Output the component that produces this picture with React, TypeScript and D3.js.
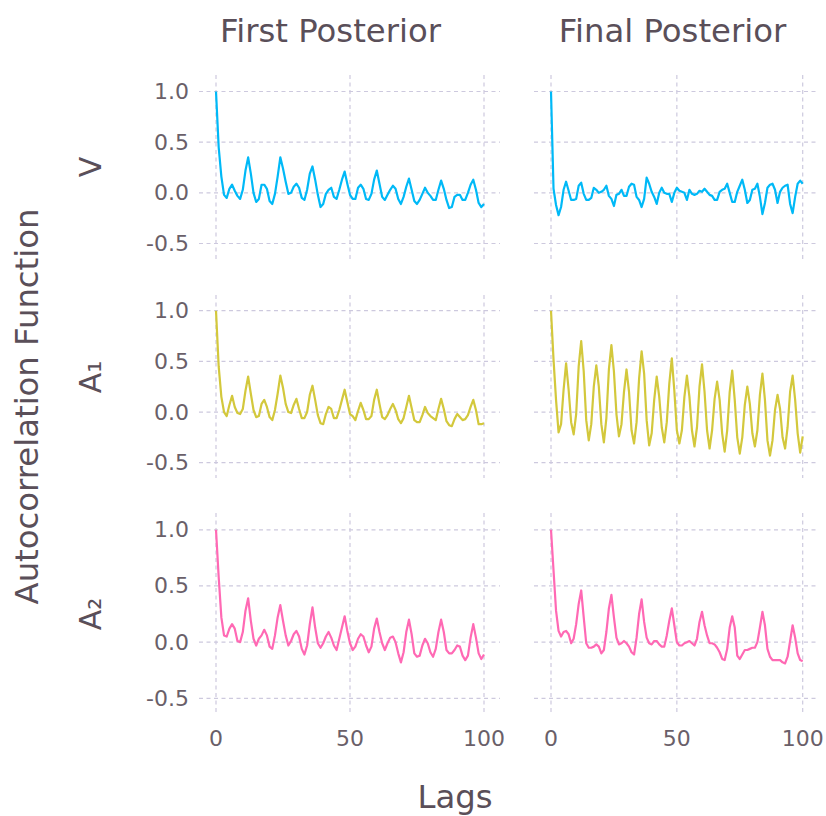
import React from "react";
import * as d3 from "d3";

const lags = d3.range(0, 101);

const vFirst = [1.0, 0.45, 0.16, -0.02, -0.05, 0.04, 0.08, 0.02, -0.03, -0.06,
  0.03, 0.22, 0.35, 0.19, 0.0, -0.09, -0.06, 0.08, 0.08, 0.04,
  -0.08, -0.11, -0.01, 0.16, 0.35, 0.24, 0.11, -0.01, 0.0, 0.06,
  0.09, 0.05, -0.05, -0.07, 0.03, 0.19, 0.26, 0.13, -0.02, -0.14,
  -0.11, -0.01, 0.03, 0.05, -0.04, -0.06, 0.03, 0.13, 0.21, 0.09,
  -0.02, -0.06, -0.06, 0.05, 0.08, 0.04, -0.06, -0.07, -0.01, 0.13,
  0.22, 0.09, -0.04, -0.07, -0.02, 0.03, 0.07, 0.04, -0.06, -0.11,
  -0.04, 0.06, 0.14, 0.03, -0.08, -0.11, -0.07, -0.01, 0.05, 0.0,
  -0.03, -0.07, -0.07, 0.03, 0.12, 0.04, -0.07, -0.15, -0.14, -0.04,
  -0.02, -0.02, -0.07, -0.07, 0.0, 0.08, 0.13, 0.03, -0.10, -0.14,
  -0.11];

const vFinal = [1.0, 0.04, -0.12, -0.22, -0.14, 0.03, 0.11, 0.02, -0.07, -0.07,
  -0.06, 0.07, 0.10, -0.01, -0.07, -0.07, -0.05, 0.05, 0.03, 0.0,
  0.01, 0.03, 0.07, -0.03, -0.06, -0.13, -0.02, -0.01, 0.03, -0.03,
  -0.03, 0.06, 0.09, 0.08, -0.04, -0.07, -0.14, -0.06, 0.15, 0.09,
  0.01, -0.04, -0.11, 0.0, 0.05, 0.0, -0.01, -0.01, -0.09, 0.0,
  0.05, 0.02, 0.01, 0.0, -0.07, 0.03, -0.01, -0.02, -0.01, 0.02,
  0.01, 0.04, 0.01, -0.02, -0.03, -0.07, -0.07, 0.01, 0.03, 0.04,
  0.09, 0.0, -0.09, -0.09, 0.01, 0.07, 0.13, 0.03, -0.10, -0.07,
  0.03, 0.04, 0.09, -0.04, -0.21, -0.10, 0.05, 0.08, 0.09, 0.03,
  -0.10, 0.01, 0.05, 0.07, 0.08, -0.11, -0.20, -0.04, 0.09, 0.12,
  0.09];

const a1First = [1.0, 0.45, 0.15, 0.0, -0.04, 0.07, 0.16, 0.05, -0.01, -0.02,
  0.03, 0.21, 0.35, 0.18, 0.02, -0.05, -0.04, 0.08, 0.12, 0.05,
  -0.05, -0.08, 0.02, 0.18, 0.36, 0.24, 0.08, 0.0, -0.01, 0.07,
  0.13, 0.03, -0.06, -0.06, 0.0, 0.17, 0.26, 0.12, -0.03, -0.11,
  -0.12, -0.02, 0.05, 0.03, -0.06, -0.06, 0.02, 0.12, 0.22, 0.10,
  -0.02, -0.04, -0.08, 0.01, 0.09, 0.02, -0.07, -0.07, -0.04, 0.12,
  0.22, 0.08, -0.05, -0.07, -0.03, 0.03, 0.08, 0.02, -0.07, -0.11,
  -0.06, 0.05, 0.16, 0.04, -0.08, -0.10, -0.10, -0.03, 0.05, -0.01,
  -0.04, -0.06, -0.08, 0.03, 0.13, 0.03, -0.09, -0.13, -0.14, -0.07,
  -0.02, -0.05, -0.08, -0.07, -0.03, 0.05, 0.12, 0.02, -0.12, -0.12,
  -0.11];

const a1Final = [1.0, 0.52, 0.12, -0.20, -0.12, 0.22, 0.48, 0.22, -0.10, -0.22,
  -0.02, 0.45, 0.70, 0.40, -0.08, -0.28, -0.12, 0.25, 0.46, 0.25,
  -0.12, -0.30, -0.06, 0.42, 0.66, 0.40, -0.02, -0.24, -0.12, 0.20,
  0.42, 0.20, -0.18, -0.31, -0.10, 0.33, 0.60, 0.38, -0.08, -0.33,
  -0.21, 0.12, 0.35, 0.15, -0.15, -0.30, -0.10, 0.28, 0.53, 0.21,
  -0.18, -0.31, -0.18, 0.15, 0.36, 0.15, -0.18, -0.34, -0.15, 0.25,
  0.47, 0.20, -0.18, -0.36, -0.18, 0.13, 0.30, 0.12, -0.21, -0.39,
  -0.18, 0.20, 0.41, 0.12, -0.25, -0.41, -0.25, 0.07, 0.25, 0.08,
  -0.21, -0.34, -0.18, 0.17, 0.38, 0.12, -0.28, -0.43, -0.28, 0.02,
  0.17, 0.03, -0.25, -0.36, -0.15, 0.20, 0.36, 0.12, -0.21, -0.40,
  -0.24];

const a2First = [1.0, 0.58, 0.22, 0.06, 0.05, 0.12, 0.16, 0.12, 0.01, 0.0,
  0.09, 0.28, 0.39, 0.19, 0.03, -0.03, 0.03, 0.06, 0.11, 0.06,
  -0.04, -0.06, 0.06, 0.22, 0.33, 0.19, 0.06, -0.03, 0.01, 0.07,
  0.10, 0.05, -0.06, -0.11, -0.03, 0.16, 0.31, 0.13, -0.01, -0.05,
  -0.01, 0.05, 0.09, 0.04, -0.03, -0.07, 0.03, 0.13, 0.23, 0.10,
  -0.01, -0.07, -0.04, 0.03, 0.07, 0.05, -0.03, -0.09, -0.04, 0.12,
  0.21, 0.09, -0.01, -0.07, -0.01, 0.04, 0.05, 0.0, -0.10, -0.18,
  -0.09, 0.09, 0.20, 0.07, -0.10, -0.13, -0.12, -0.03, 0.03, -0.01,
  -0.09, -0.13, -0.06, 0.09, 0.20, 0.09, -0.07, -0.10, -0.10, -0.07,
  -0.03, -0.04, -0.12, -0.16, -0.12, 0.04, 0.16, 0.04, -0.10, -0.15,
  -0.11];

const a2Final = [1.0, 0.64, 0.28, 0.10, 0.05, 0.09, 0.10, 0.07, -0.01, 0.03,
  0.16, 0.34, 0.46, 0.22, -0.01, -0.05, -0.05, -0.04, -0.02, -0.04,
  -0.10, -0.07, 0.09, 0.30, 0.42, 0.22, 0.04, -0.02, -0.01, 0.01,
  -0.01, -0.04, -0.09, -0.11, 0.04, 0.25, 0.38, 0.18, 0.04, -0.01,
  -0.02, 0.01, 0.01, -0.02, -0.04, -0.04, 0.06, 0.19, 0.30, 0.15,
  0.0, -0.03, -0.03, -0.01, 0.0, 0.01, -0.01, -0.03, 0.03, 0.18,
  0.27, 0.15, 0.06, -0.01, -0.01, -0.02, -0.05, -0.09, -0.15, -0.16,
  -0.06, 0.13, 0.23, 0.13, -0.12, -0.15, -0.11, -0.07, -0.07, -0.06,
  -0.05, -0.05, 0.0, 0.13, 0.27, 0.15, -0.06, -0.13, -0.16, -0.16,
  -0.16, -0.16, -0.18, -0.19, -0.13, 0.01, 0.15, 0.04, -0.10, -0.16,
  -0.17];

const colTitles = ["First Posterior", "Final Posterior"];
const rowLabels = ["V", "A₁", "A₂"];
const rowColors = ["#00b9f7", "#d3c83c", "#ff69b4"];
const seriesGrid = [
  [vFirst, vFinal],
  [a1First, a1Final],
  [a2First, a2Final],
];
const xTicks = [0, 50, 100];
const yTicks = [-0.5, 0, 0.5, 1.0];
const yTickLabels = ["-0.5", "0.0", "0.5", "1.0"];
const xLabel = "Lags";
const yLabel = "Autocorrelation Function";

// layout (pixels)
const cols = [
  { left: 199, right: 500, r0: 216, r1: 484, titleX: 330.5 },
  { left: 534, right: 819, r0: 551, r1: 802.7, titleX: 672.5 },
];
const rows = [
  { top: 75, bottom: 260, rHi: 91.5, rLo: 243.5, labelY: 167 },
  { top: 295, bottom: 478, rHi: 310.7, rLo: 462.7, labelY: 377 },
  { top: 513, bottom: 714, rHi: 529.8, rLo: 698.3, labelY: 614 },
];

const FONT = "DejaVu Sans, sans-serif";
const TEXT = "#5a4f59";
const TICK = "#6a5f69";
const GRID = "#cdc9de";

export default function App() {
  return (
    <svg
      width={826}
      height={816}
      style={{ position: "absolute", left: 0, top: 0, background: "#fff" }}
      fontFamily={FONT}
    >
      <rect width={826} height={816} fill="#fff" />
      {colTitles.map((t, ci) => (
        <text key={t} x={cols[ci].titleX} y={41.5} textAnchor="middle" fontSize={32.3} fill={TEXT}>
          {t}
        </text>
      ))}
      {rowLabels.map((t, ri) => (
        <text
          key={t}
          transform={`translate(100.5,${rows[ri].labelY}) rotate(-90)`}
          textAnchor="middle"
          fontSize={30}
          fill={TEXT}
        >
          {t}
        </text>
      ))}
      <text transform="translate(38,406.5) rotate(-90)" textAnchor="middle" fontSize={32.3} fill={TEXT}>
        {yLabel}
      </text>
      <text x={455} y={808} textAnchor="middle" fontSize={32.3} fill={TEXT}>
        {xLabel}
      </text>
      {rows.map((row, ri) =>
        cols.map((col, ci) => {
          const x = d3.scaleLinear().domain([0, 100]).range([col.r0, col.r1]);
          const y = d3.scaleLinear().domain([-0.5, 1]).range([row.rLo, row.rHi]);
          const vals = seriesGrid[ri][ci];
          const line = d3
            .line<number>()
            .x((_, i) => x(lags[i]))
            .y((d) => y(d));
          return (
            <g key={`${ri}-${ci}`}>
              {xTicks.map((t) => (
                <line
                  key={`vx${t}`}
                  x1={x(t)}
                  x2={x(t)}
                  y1={row.top}
                  y2={row.bottom}
                  stroke={GRID}
                  strokeWidth={1.2}
                  strokeDasharray="4,3.5"
                />
              ))}
              {yTicks.map((t) => (
                <line
                  key={`hy${t}`}
                  x1={col.left}
                  x2={col.right}
                  y1={y(t)}
                  y2={y(t)}
                  stroke={GRID}
                  strokeWidth={1.2}
                  strokeDasharray="4,3.5"
                />
              ))}
              <path
                d={line(vals) || ""}
                fill="none"
                stroke={rowColors[ri]}
                strokeWidth={2.2}
                strokeLinejoin="round"
              />
              {ci === 0 &&
                yTicks.map((t, k) => (
                  <text
                    key={`yl${t}`}
                    x={189}
                    y={y(t)}
                    textAnchor="end"
                    dominantBaseline="central"
                    fontSize={22}
                    fill={TICK}
                  >
                    {yTickLabels[k]}
                  </text>
                ))}
              {ri === 2 &&
                xTicks.map((t) => (
                  <text key={`xl${t}`} x={x(t)} y={746} textAnchor="middle" fontSize={22} fill={TICK}>
                    {t}
                  </text>
                ))}
            </g>
          );
        })
      )}
    </svg>
  );
}
